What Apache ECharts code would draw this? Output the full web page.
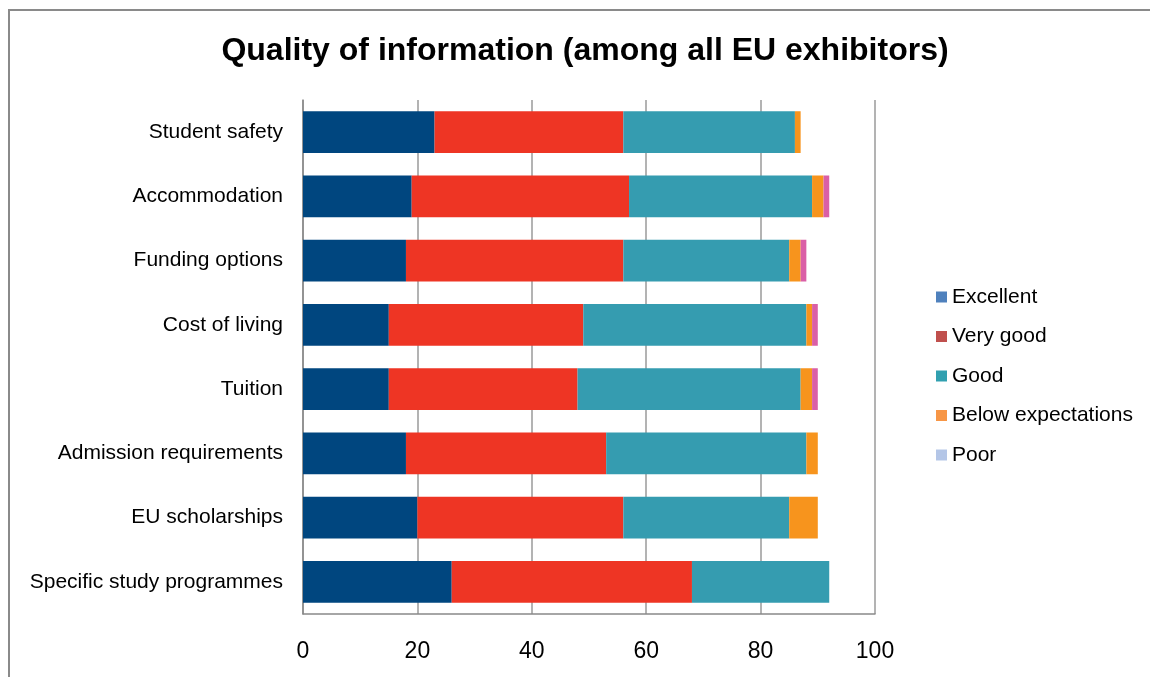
<!DOCTYPE html>
<html>
<head>
<meta charset="utf-8">
<script src="https://cdn.jsdelivr.net/npm/echarts@6/dist/echarts.min.js"></script>
<style>html,body{margin:0;padding:0;background:#fff}#c{width:1150px;height:677px}</style>
</head>
<body>
<div id="c"></div>
<script>
const categories = ["Student safety","Accommodation","Funding options","Cost of living","Tuition","Admission requirements","EU scholarships","Specific study programmes"];
const excellent = [23,19,18,15,15,18,20,26];
const veryGood  = [33,38,38,34,33,35,36,42];
const good      = [30,32,29,39,39,35,29,24];
const below     = [1,2,2,1,2,2,5,0];
const poor      = [0,1,1,1,1,0,0,0];
const seriesNames = ["Excellent","Very good","Good","Below expectations","Poor"];
const xTicks = [0,20,40,60,80,100];

const barColors = ["#00467F","#EE3524","#359CB0","#F7941D","#DA5FA6"];
const legendColors = ["#4F81BD","#C0504D","#31A0B0","#F79646","#B4C6E7"];
const values = [excellent, veryGood, good, below, poor];

const chart = echarts.init(document.getElementById('c'));
chart.setOption({
  animation:false,
  backgroundColor:'#fff',
  title:{text:'Quality of information (among all EU exhibitors)',left:580,textAlign:'center',top:30,
    textStyle:{fontFamily:'Liberation Sans',fontWeight:'bold',fontSize:32,color:'#000'}},
  graphic:[{type:'rect',shape:{x:9,y:10,width:1200,height:720},style:{fill:'none',stroke:'#8a8a8a',lineWidth:2},silent:true}],
  legend:{orient:'vertical',left:936,top:286.5,padding:0,itemWidth:11,itemHeight:11,itemGap:18.5,icon:'rect',
    textStyle:{fontFamily:'Liberation Sans',fontSize:21,color:'#000',lineHeight:21},
    data:seriesNames.map((n,i)=>({name:n,itemStyle:{color:legendColors[i]}}))},
  grid:{left:303,right:275,top:100,bottom:63},
  xAxis:{type:'value',min:xTicks[0],max:xTicks[xTicks.length-1],interval:20,
    axisLine:{show:true,lineStyle:{color:'#898989',width:1.5}},axisTick:{show:false},
    splitLine:{show:true,lineStyle:{color:'#9a9a9a',width:1.5}},
    axisLabel:{margin:26,fontFamily:'Liberation Sans',fontSize:23,color:'#000'}},
  yAxis:{type:'category',data:categories,inverse:true,
    axisLine:{show:true,lineStyle:{color:'#898989',width:1.5}},axisTick:{show:false},
    axisLabel:{margin:20,fontFamily:'Liberation Sans',fontSize:21,color:'#000'}},
  series:seriesNames.map((n,i)=>({name:n,type:'bar',stack:'total',data:values[i],
    barCategoryGap:'35%',itemStyle:{color:barColors[i]}}))
});
</script>
</body>
</html>
